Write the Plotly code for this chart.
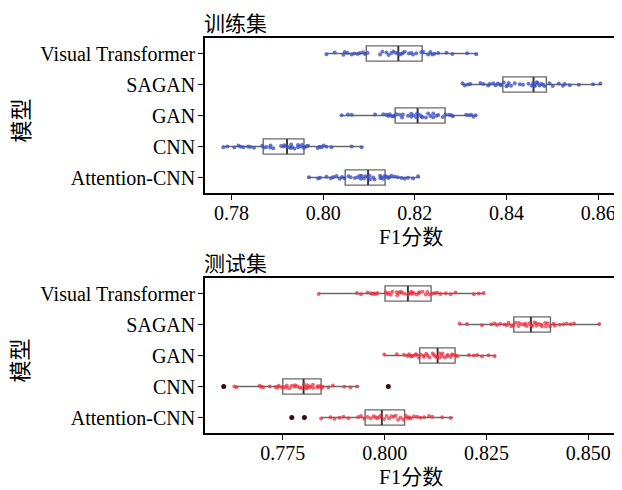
import plotly.graph_objects as go
from plotly.subplots import make_subplots

# ---------------- data ----------------
categories = ["Visual Transformer", "SAGAN", "GAN", "CNN", "Attention-CNN"]

# training set box statistics (F1)
train_q1 = [0.8094, 0.8392, 0.8157, 0.7869, 0.8048]
train_median = [0.8164, 0.8459, 0.8206, 0.7921, 0.8098]
train_q3 = [0.8216, 0.8487, 0.8266, 0.7958, 0.8135]
train_low = [0.8006, 0.8303, 0.8038, 0.7780, 0.7965]
train_high = [0.8337, 0.8607, 0.8334, 0.8086, 0.8211]

# test set box statistics (F1)
test_q1 = [0.8001, 0.8317, 0.8086, 0.7750, 0.7952]
test_median = [0.8057, 0.8359, 0.8130, 0.7801, 0.7993]
test_q3 = [0.8114, 0.8407, 0.8173, 0.7844, 0.8049]
test_low = [0.7838, 0.8182, 0.7999, 0.7632, 0.7844]
test_high = [0.8245, 0.8529, 0.8273, 0.7938, 0.8168]

# test set outliers
test_outlier_x = [0.7605, 0.8009, 0.7772, 0.7803]
test_outlier_cat = ["CNN", "CNN", "Attention-CNN", "Attention-CNN"]

# individual runs, training set
train_vt = [0.8007, 0.8025, 0.8044, 0.8047, 0.8053, 0.8062, 0.8068, 0.8075, 0.8080, 0.8087,
            0.8091, 0.8097, 0.8124, 0.8129, 0.8138, 0.8143, 0.8149, 0.8153, 0.8158, 0.8163,
            0.8167, 0.8171, 0.8174, 0.8178, 0.8187, 0.8196, 0.8192, 0.8203, 0.8214, 0.8218,
            0.8229, 0.8234, 0.8238, 0.8243, 0.8251, 0.8269, 0.8282, 0.8314, 0.8334]
train_sagan = [0.8304, 0.8309, 0.8316, 0.8321, 0.8343, 0.8350, 0.8360, 0.8363, 0.8371, 0.8376,
               0.8381, 0.8386, 0.8388, 0.8394, 0.8400, 0.8402, 0.8405, 0.8410, 0.8418, 0.8429,
               0.8436, 0.8448, 0.8455, 0.8458, 0.8461, 0.8462, 0.8466, 0.8468, 0.8472, 0.8476,
               0.8480, 0.8483, 0.8494, 0.8501, 0.8514, 0.8523, 0.8527, 0.8538, 0.8558, 0.8589,
               0.8605]
train_gan = [0.8040, 0.8054, 0.8062, 0.8113, 0.8131, 0.8138, 0.8142, 0.8145, 0.8149, 0.8153,
             0.8156, 0.8160, 0.8167, 0.8172, 0.8174, 0.8185, 0.8192, 0.8197, 0.8192, 0.8203,
             0.8205, 0.8211, 0.8215, 0.8216, 0.8224, 0.8229, 0.8234, 0.8240, 0.8240, 0.8247,
             0.8251, 0.8261, 0.8267, 0.8275, 0.8280, 0.8283, 0.8312, 0.8318, 0.8323, 0.8328,
             0.8333]
train_cnn = [0.7782, 0.7791, 0.7806, 0.7815, 0.7820, 0.7826, 0.7836, 0.7841, 0.7849, 0.7867,
             0.7871, 0.7876, 0.7884, 0.7885, 0.7891, 0.7908, 0.7913, 0.7915, 0.7920, 0.7925,
             0.7929, 0.7930, 0.7932, 0.7937, 0.7945, 0.7945, 0.7950, 0.7954, 0.7957, 0.7960,
             0.7964, 0.7967, 0.7988, 0.7992, 0.7996, 0.8001, 0.8007, 0.8018, 0.8062, 0.8084]
train_att = [0.7969, 0.7989, 0.7993, 0.8007, 0.8017, 0.8022, 0.8029, 0.8036, 0.8041, 0.8046,
             0.8055, 0.8060, 0.8069, 0.8075, 0.8080, 0.8082, 0.8084, 0.8089, 0.8092, 0.8097,
             0.8101, 0.8102, 0.8109, 0.8112, 0.8124, 0.8125, 0.8127, 0.8131, 0.8134, 0.8138,
             0.8142, 0.8145, 0.8149, 0.8156, 0.8163, 0.8171, 0.8178, 0.8185, 0.8196, 0.8207]

# individual runs, test set
test_vt = [0.7838, 0.7932, 0.7942, 0.7958, 0.7966, 0.7970, 0.7974, 0.7978, 0.7982, 0.8003,
           0.8007, 0.8011, 0.8015, 0.8019, 0.8030, 0.8031, 0.8035, 0.8039, 0.8042, 0.8048,
           0.8056, 0.8060, 0.8063, 0.8066, 0.8068, 0.8072, 0.8078, 0.8084, 0.8085, 0.8093,
           0.8101, 0.8105, 0.8110, 0.8117, 0.8123, 0.8129, 0.8137, 0.8150, 0.8162, 0.8174,
           0.8219, 0.8231, 0.8243]
test_sagan = [0.8184, 0.8202, 0.8239, 0.8262, 0.8270, 0.8276, 0.8284, 0.8294, 0.8300, 0.8304,
              0.8311, 0.8316, 0.8322, 0.8329, 0.8330, 0.8337, 0.8343, 0.8345, 0.8349, 0.8355,
              0.8361, 0.8362, 0.8368, 0.8372, 0.8373, 0.8379, 0.8385, 0.8386, 0.8396, 0.8394,
              0.8400, 0.8406, 0.8415, 0.8418, 0.8430, 0.8439, 0.8447, 0.8457, 0.8465, 0.8527]
test_gan = [0.7999, 0.8030, 0.8048, 0.8056, 0.8060, 0.8064, 0.8066, 0.8070, 0.8076, 0.8078,
            0.8084, 0.8088, 0.8095, 0.8097, 0.8102, 0.8105, 0.8110, 0.8118, 0.8121, 0.8125,
            0.8129, 0.8135, 0.8135, 0.8141, 0.8142, 0.8148, 0.8154, 0.8155, 0.8162, 0.8165,
            0.8167, 0.8174, 0.8178, 0.8207, 0.8219, 0.8227, 0.8239, 0.8255, 0.8270]
test_cnn = [0.7631, 0.7636, 0.7693, 0.7697, 0.7702, 0.7718, 0.7732, 0.7737, 0.7740, 0.7748,
            0.7753, 0.7759, 0.7760, 0.7767, 0.7772, 0.7779, 0.7780, 0.7785, 0.7791, 0.7795,
            0.7802, 0.7807, 0.7808, 0.7811, 0.7815, 0.7818, 0.7824, 0.7825, 0.7835, 0.7836,
            0.7842, 0.7845, 0.7848, 0.7862, 0.7873, 0.7901, 0.7916, 0.7932]
test_att = [0.7844, 0.7867, 0.7877, 0.7889, 0.7899, 0.7911, 0.7935, 0.7942, 0.7950, 0.7958,
            0.7966, 0.7973, 0.7978, 0.7982, 0.7987, 0.7991, 0.7999, 0.8005, 0.8011, 0.8017,
            0.8022, 0.8027, 0.8033, 0.8039, 0.8046, 0.8052, 0.8057, 0.8060, 0.8064, 0.8072,
            0.8080, 0.8088, 0.8097, 0.8109, 0.8117, 0.8141, 0.8162]

train_points = [train_vt, train_sagan, train_gan, train_cnn, train_att]
test_points = [test_vt, test_sagan, test_gan, test_cnn, test_att]

train_ticks = [0.78, 0.80, 0.82, 0.84, 0.86]
test_ticks = [0.775, 0.800, 0.825, 0.850]

# ---------------- style ----------------
FONT = "Liberation Serif, 'Times New Roman', 'Noto Sans CJK SC', serif"
BOX_LINE = "#6a6a6a"
MEDIAN_LINE = "#333333"
BLUE = "rgba(60, 80, 195, 0.78)"
RED = "rgba(238, 45, 60, 0.72)"
DARK = "#3a0c0c"

fig = make_subplots(rows=2, cols=1)


def add_panel(row, q1, med, q3, lo, hi, pts, color):
    # box + whiskers
    fig.add_trace(go.Box(
        y=categories, q1=q1, median=med, q3=q3, lowerfence=lo, upperfence=hi,
        orientation="h", boxpoints=False, whiskerwidth=0,
        fillcolor="rgba(255,255,255,0)", line=dict(color=BOX_LINE, width=1.4),
        showlegend=False, hoverinfo="skip"), row=row, col=1)
    # darker median line (degenerate box at the median)
    fig.add_trace(go.Box(
        y=categories, q1=med, median=med, q3=med, lowerfence=med, upperfence=med,
        orientation="h", boxpoints=False, whiskerwidth=0,
        fillcolor="rgba(255,255,255,0)", line=dict(color=MEDIAN_LINE, width=1.8),
        showlegend=False, hoverinfo="skip"), row=row, col=1)
    # jittered individual runs
    xs, ys = [], []
    for cat, vals in zip(categories, pts):
        xs.extend(vals)
        ys.extend([cat] * len(vals))
    fig.add_trace(go.Box(
        x=xs, y=ys, orientation="h", boxpoints="all", jitter=0.3, pointpos=0,
        fillcolor="rgba(0,0,0,0)", line=dict(color="rgba(0,0,0,0)", width=0),
        marker=dict(color=color, size=4), showlegend=False), row=row, col=1)


add_panel(1, train_q1, train_median, train_q3, train_low, train_high, train_points, BLUE)
add_panel(2, test_q1, test_median, test_q3, test_low, test_high, test_points, RED)

fig.add_trace(go.Scatter(x=test_outlier_x, y=test_outlier_cat, mode="markers",
                         marker=dict(color=DARK, size=5), showlegend=False), row=2, col=1)

axis_common = dict(showline=True, linecolor="black", linewidth=1.5, mirror=True,
                   ticks="outside", ticklen=5, tickwidth=1.2, tickcolor="black",
                   showgrid=False, zeroline=False,
                   tickfont=dict(family=FONT, size=20, color="black"))

fig.update_xaxes(**axis_common, ticklabelstandoff=-4)
fig.update_yaxes(**axis_common, ticklabelstandoff=-1)
fig.update_yaxes(categoryorder="array", categoryarray=categories, autorange="reversed")

# page body has an 8px margin, so the figure is 8px smaller and offset
fig.update_layout(
    width=614, height=482,
    margin=dict(l=197, r=4, t=30, b=57),
    plot_bgcolor="white", paper_bgcolor="white",
    boxmode="overlay", boxgap=0.3,
    font=dict(family=FONT, color="black"),
    xaxis=dict(domain=[0, 1], range=[0.7742, 0.8639], tickvals=train_ticks,
               ticktext=[f"{t:.2f}" for t in train_ticks]),
    yaxis=dict(domain=[0.6076, 1.0]),
    xaxis2=dict(domain=[0, 1], range=[0.7559, 0.8568], tickvals=test_ticks,
                ticktext=[f"{t:.3f}" for t in test_ticks]),
    yaxis2=dict(domain=[0.0, 0.3924]),
)

for xr, yr, title in [("x", "y", "训练集"), ("x2", "y2", "测试集")]:
    fig.add_annotation(text=title, xref=f"{xr} domain", yref=f"{yr} domain",
                       x=0, y=1, xanchor="left", yanchor="bottom", showarrow=False,
                       xshift=-3, yshift=0, font=dict(family=FONT, size=21, color="black"))
    fig.add_annotation(text="F1分数", xref=f"{xr} domain", yref=f"{yr} domain",
                       x=0.5, y=0, xanchor="center", yanchor="middle", showarrow=False,
                       yshift=-44, font=dict(family=FONT, size=21, color="black"))
    fig.add_annotation(text="模型", xref=f"{xr} domain", yref=f"{yr} domain",
                       x=0, y=0.5, xanchor="center", yanchor="middle", showarrow=False,
                       xshift=-184, yshift=-5, textangle=-90,
                       font=dict(family=FONT, size=22, color="black"))

fig.write_html("out.html")
